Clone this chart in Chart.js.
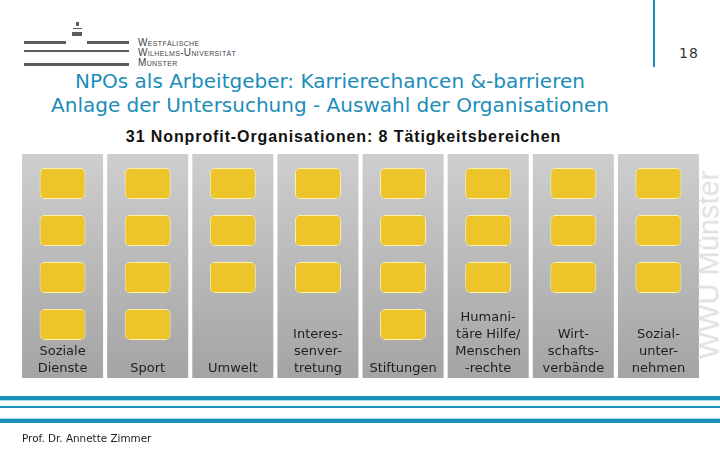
<!DOCTYPE html>
<html>
<head>
<meta charset="utf-8">
<script src="https://cdn.jsdelivr.net/npm/chart.js@4/dist/chart.umd.min.js"></script>
<style>
  html, body { margin:0; padding:0; background:#fff; }
  body { width:720px; height:450px; position:relative; overflow:hidden; font-family:'DejaVu Sans', sans-serif; }
  .abs { position:absolute; }
  .bar { position:absolute; background:#5c5c5c; }
  .logo-t { position:absolute; left:138px; font-family:'Liberation Sans', sans-serif; font-size:10px; font-variant:small-caps; color:#444; letter-spacing:0.35px; line-height:10px; white-space:nowrap; }
  .title { position:absolute; left:0; width:660px; text-align:center; color:#1b8db8; font-family:'DejaVu Sans', sans-serif; font-size:20px; line-height:24px; white-space:nowrap; }
  .blue { position:absolute; left:0; width:720px; background:#1a90bd; }
  .lightblue { position:absolute; left:0; width:720px; background:#a8dcef; }
  #c { position:absolute; left:0; top:0; }
</style>
</head>
<body>
<!-- logo -->
<div class="bar" style="left:76px;top:22px;width:3px;height:4px;"></div>
<div class="bar" style="left:73px;top:28px;width:9px;height:1px;"></div>
<div class="bar" style="left:72px;top:32px;width:10px;height:4px;"></div>
<div class="bar" style="left:24px;top:41px;width:42px;height:3px;"></div>
<div class="bar" style="left:87px;top:41px;width:42px;height:3px;"></div>
<div class="bar" style="left:24px;top:50px;width:105px;height:1.5px;"></div>
<div class="bar" style="left:24px;top:63px;width:105px;height:3px;"></div>
<div class="logo-t" style="top:38px;">Westfälische</div>
<div class="logo-t" style="top:48px;">Wilhelms-Universität</div>
<div class="logo-t" style="top:58px;">Münster</div>

<div class="abs" style="left:653px;top:0;width:1.5px;height:67px;background:#1b8db8;"></div>
<div class="abs" style="left:679px;top:45px;font-size:14px;color:#333;letter-spacing:1px;">18</div>

<div class="title" style="top:69px;">NPOs als Arbeitgeber: Karrierechancen &amp;-barrieren</div>
<div class="title" style="top:93px;">Anlage der Untersuchung - Auswahl der Organisationen</div>
<div class="abs" style="left:0;width:687px;top:128px;text-align:center;font-family:'Liberation Sans',sans-serif;font-weight:bold;font-size:16px;letter-spacing:0.9px;color:#111;white-space:nowrap;">31 Nonprofit-Organisationen: 8 Tätigkeitsbereichen</div>

<canvas id="c" width="720" height="450"></canvas>

<div class="abs" style="left:709px;top:265px;transform:translate(-50%,-50%) rotate(-90deg);white-space:nowrap;font-family:'Liberation Sans',sans-serif;font-size:29px;line-height:1;color:#e0e0e0;">WWU Münster</div>

<div class="blue" style="top:396px;height:4px;"></div>
<div class="lightblue" style="top:400px;height:1px;"></div>
<div class="blue" style="top:406px;height:2px;"></div>
<div class="lightblue" style="top:418px;height:1px;"></div>
<div class="blue" style="top:419px;height:4px;"></div>
<div class="abs" style="left:22px;top:432px;font-size:10.4px;color:#222;white-space:nowrap;">Prof. Dr. Annette Zimmer</div>

<script>
// ---- data ----
const categories = [
  ["Soziale", "Dienste"],
  ["Sport"],
  ["Umwelt"],
  ["Interes-", "senver-", "tretung"],
  ["Stiftungen"],
  ["Humani-", "täre Hilfe/", "Menschen", "-rechte"],
  ["Wirt-", "schafts-", "verbände"],
  ["Sozial-", "unter-", "nehmen"]
];
const orgCounts = [4, 4, 3, 3, 4, 3, 3, 3];
const slots = [1, 2, 3, 4];

// ---- chart ----
const YMAX = 224 / 47;
const labelsPlugin = {
  id: 'colLabels',
  afterDatasetsDraw(chart) {
    const ctx = chart.ctx;
    const xs = chart.scales.x;
    ctx.save();
    ctx.font = "13px 'DejaVu Sans', sans-serif";
    ctx.fillStyle = '#1e1e1e';
    ctx.textAlign = 'center';
    ctx.textBaseline = 'alphabetic';
    categories.forEach((lines, i) => {
      const x = xs.getPixelForValue(i);
      const base = chart.chartArea.bottom - 6.5;
      lines.forEach((ln, j) => {
        ctx.fillText(ln, x, base - (lines.length - 1 - j) * 16.7);
      });
    });
    ctx.restore();
  }
};

const bg = (c) => {
  const area = c.chart.chartArea;
  if (!area) return '#bbbbbb';
  const g = c.chart.ctx.createLinearGradient(0, area.top, 0, area.bottom);
  g.addColorStop(0, '#cecece');
  g.addColorStop(1, '#a4a4a4');
  return g;
};

const datasets = [{
  label: 'bg',
  data: categories.map(() => [0, YMAX]),
  backgroundColor: bg,
  borderWidth: 0,
  barPercentage: 0.952,
  categoryPercentage: 1,
  grouped: false,
  order: 2
}];
slots.forEach(s => {
  datasets.push({
    label: 'slot' + s,
    data: orgCounts.map(c => c >= s ? [s - 1 + 0.298, s - 1 + 0.957] : null),
    backgroundColor: '#edc52a',
    borderColor: '#fff2a6',
    borderWidth: 1,
    borderRadius: 5,
    borderSkipped: false,
    barPercentage: 0.54,
    categoryPercentage: 1,
    grouped: false,
    order: 1
  });
});

new Chart(document.getElementById('c'), {
  type: 'bar',
  data: { labels: categories.map(l => l.join(' ')), datasets },
  options: {
    responsive: false,
    devicePixelRatio: 1,
    animation: false,
    layout: { padding: { left: 20, right: 19, top: 154, bottom: 72 } },
    plugins: { legend: { display: false }, tooltip: { enabled: false } },
    scales: {
      x: { display: false, offset: true },
      y: { display: false, reverse: true, min: 0, max: YMAX }
    }
  },
  plugins: [labelsPlugin]
});
</script>
</body>
</html>
